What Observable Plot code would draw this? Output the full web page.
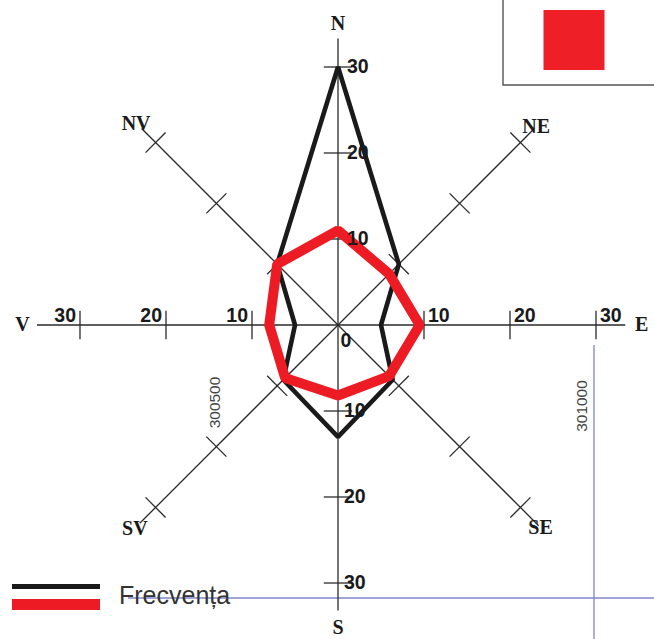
<!DOCTYPE html>
<html><head><meta charset="utf-8">
<script src="https://cdn.jsdelivr.net/npm/d3@7"></script>
<script src="https://cdn.jsdelivr.net/npm/@observablehq/plot@0.6"></script>
<style>
body{margin:0;background:#fff;}
#wrap{position:relative;width:654px;height:639px;overflow:hidden;background:#fff;}
#wrap svg{position:absolute;left:0;top:0;}
</style></head><body><div id="wrap"></div>
<script>
// ---- data ----
const directions = ["N","NE","E","SE","S","SV","V","NV"];
const seriesBlack = [30,10,5,9,13,9,5,10];
const seriesRed = [11,8.4,9.5,8.4,8.2,8.7,8,10];
const tickValues = [10,20,30];
const tickLabels = ["10","20","30"];
const zeroLabel = "0";
const legendLabel = "Frecvența";
const mapGridLabels = ["300500","301000"];

// ---- geometry helpers ----
const W = 654, H = 639, K = 8.6, CX = 337.5, CY = 324.5;
const ang = i => i * Math.PI / 4;
const px = (r, i) => r * Math.sin(ang(i));
const py = (r, i) => r * Math.cos(ang(i));
const axisExtent = {N:33.3, NE:32.3, E:33.4, SE:33, S:33.2, SV:32.6, V:35, NV:32.3};
const labelR = {N:35.1, NE:32.6, E:35.3, SE:33.3, S:35.2, SV:33.4, V:36.7, NV:33.2};
const half = 1.65;

const rays = directions.map((d, i) => ({x2: px(axisExtent[d], i), y2: py(axisExtent[d], i)}));
const ticks = [];
directions.forEach((d, i) => tickValues.forEach(v => {
  const cx = px(v, i), cy = py(v, i);
  const ux = Math.cos(ang(i)), uy = -Math.sin(ang(i));
  ticks.push({x1: cx - half*ux, y1: cy - half*uy, x2: cx + half*ux, y2: cy + half*uy});
}));
const poly = vals => vals.map((v, i) => ({x: px(v, i), y: py(v, i)}));
const dirLabels = directions.map((d, i) => ({d, x: px(labelR[d], i), y: py(labelR[d], i)}));
const tl = tickValues.map((v, j) => ({v, t: tickLabels[j]}));

const numFont = "Liberation Sans, Arial, sans-serif";
const serif = "Liberation Serif, Times New Roman, serif";

const chart = Plot.plot({
  width: W, height: H, margin: 0,
  x: {domain: [-CX / K, (W - CX) / K], axis: null},
  y: {domain: [-(H - CY) / K, CY / K], axis: null},
  style: {background: "transparent"},
  marks: [
    Plot.link(rays, {x1: 0, y1: 0, x2: "x2", y2: "y2", stroke: "#2a2a2a", strokeWidth: 1.3}),
    Plot.link(ticks, {x1: "x1", y1: "y1", x2: "x2", y2: "y2", stroke: "#2a2a2a", strokeWidth: 1.3}),
    Plot.line(poly(seriesBlack), {x: "x", y: "y", curve: "linear-closed", stroke: "#1a1a1a", strokeWidth: 4.6, strokeLinejoin: "miter"}),
    Plot.line(poly(seriesRed), {x: "x", y: "y", curve: "linear-closed", stroke: "#ed1c24", strokeWidth: 10, strokeLinejoin: "miter"}),
    Plot.text(tl, {x: 0, y: d => d.v, text: "t", textAnchor: "start", dx: 9, fontSize: 19.5, fontWeight: "bold", fontFamily: numFont, fill: "#1a1a1a"}),
    Plot.text(tl, {x: 0, y: d => -d.v, text: "t", textAnchor: "start", dx: 6, fontSize: 19.5, fontWeight: "bold", fontFamily: numFont, fill: "#1a1a1a"}),
    Plot.text(tl, {x: d => d.v, y: 0, text: "t", textAnchor: "start", dx: 4, dy: -9, fontSize: 19.5, fontWeight: "bold", fontFamily: numFont, fill: "#1a1a1a"}),
    Plot.text(tl, {x: d => -d.v, y: 0, text: "t", textAnchor: "end", dx: -4, dy: -9, fontSize: 19.5, fontWeight: "bold", fontFamily: numFont, fill: "#1a1a1a"}),
    Plot.text([zeroLabel], {x: 0, y: 0, text: d => d, dx: 8, dy: 16, fontSize: 19.5, fontWeight: "bold", fontFamily: numFont, fill: "#1a1a1a"}),
    Plot.text(dirLabels, {x: "x", y: "y", text: "d", fontSize: 20, fontWeight: "bold", fontFamily: serif, fill: "#1a1a1a"})
  ]
});

// ---- decorations overlay (map inset box, legend, map grid) ----
const ns = "http://www.w3.org/2000/svg";
const deco = d3.create("svg").attr("xmlns", ns).attr("width", W).attr("height", H);
deco.append("line").attr("x1", 594).attr("x2", 594).attr("y1", 345).attr("y2", H).attr("stroke", "#8084c8").attr("stroke-width", 1.3);
deco.append("line").attr("x1", 128).attr("x2", W).attr("y1", 598).attr("y2", 598).attr("stroke", "#8084c8").attr("stroke-width", 1.3);
[[214, 402.5], [581, 406]].forEach(([x, y], j) => {
  deco.append("text").attr("transform", `translate(${x},${y}) rotate(-90)`)
    .attr("text-anchor", "middle").attr("dominant-baseline", "central")
    .attr("font-family", "Liberation Sans, Arial, sans-serif").attr("font-size", 15.5)
    .attr("fill", "#444").text(mapGridLabels[j]);
});
deco.append("path").attr("d", "M503,0V85H654").attr("fill", "none").attr("stroke", "#555").attr("stroke-width", 1.4);
deco.append("rect").attr("x", 543.5).attr("y", 10).attr("width", 61).attr("height", 60).attr("fill", "#ee1f26");
deco.append("rect").attr("x", 12).attr("y", 584).attr("width", 88).attr("height", 5).attr("fill", "#1a1a1a");
deco.append("rect").attr("x", 12).attr("y", 599).attr("width", 88).attr("height", 11).attr("fill", "#ed1c24");
deco.append("text").attr("x", 119).attr("y", 604).attr("font-family", "Liberation Sans, Arial, sans-serif")
  .attr("font-size", 25).attr("fill", "#333").text(legendLabel);

const wrap = document.getElementById("wrap");
wrap.appendChild(deco.node());
wrap.appendChild(chart);
</script>
</body></html>
